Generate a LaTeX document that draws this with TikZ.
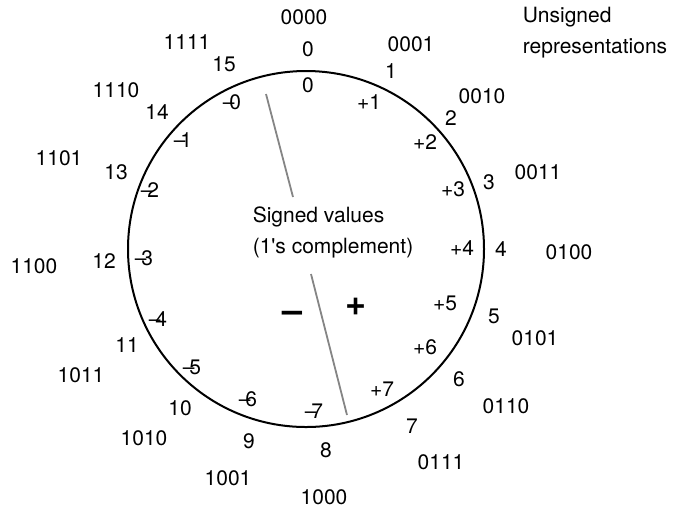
\documentclass[tikz,border=0pt]{standalone}
\usepackage{fontspec}
\setmainfont{TeX Gyre Heros}
\usepackage{tikz}
\newcommand{\mns}{\mbox{--}\kern-2.6pt}

\begin{document}
\begin{tikzpicture}[x=0.5pt, y=-0.5pt,
        lbl/.style={inner sep=0pt, font=\fontsize{10.5}{12}\selectfont},
        note/.style={inner sep=0pt, align=left, font=\fontsize{10.5}{15.5}\selectfont},
        sign/.style={inner sep=0pt, font=\fontsize{18}{20}\selectfont\bfseries},
        cut/.style={draw=black!48, line width=0.9pt}
    ]
    \useasboundingbox (0,0) rectangle (674,511);
    \node[circle, draw, line width=1pt, inner sep=0pt, minimum size=178pt] (ring) at (306,249) {};
    % binary codes
    \node[lbl] (b0000) at (304,17) {0000};
    \node[lbl] (b0001) at (411,44) {0001};
    \node[lbl] (b0010) at (482,96) {0010};
    \node[lbl] (b0011) at (538,172) {0011};
    \node[lbl] (b0100) at (569,252) {0100};
    \node[lbl] (b0101) at (535,338) {0101};
    \node[lbl] (b0110) at (506,406) {0110};
    \node[lbl] (b0111) at (441,462) {0111};
    \node[lbl] (b1000) at (324,497) {1000};
    \node[lbl] (b1001) at (228,478) {1001};
    \node[lbl] (b1010) at (144,438) {1010};
    \node[lbl] (b1011) at (81,375) {1011};
    \node[lbl] (b1100) at (34,266) {1100};
    \node[lbl] (b1101) at (59,158) {1101};
    \node[lbl] (b1110) at (116,90) {1110};
    \node[lbl] (b1111) at (187,42) {1111};
    % unsigned values
    \node[lbl] (u0) at (308,49) {0};
    \node[lbl] (u1) at (391,71) {1};
    \node[lbl] (u2) at (451,118) {2};
    \node[lbl] (u3) at (489,182) {3};
    \node[lbl] (u4) at (501,249) {4};
    \node[lbl] (u5) at (494,316) {5};
    \node[lbl] (u6) at (459,379) {6};
    \node[lbl] (u7) at (412,426) {7};
    \node[lbl] (u8) at (326,450) {8};
    \node[lbl] (u9) at (249,441) {9};
    \node[lbl] (u10) at (180,408) {10};
    \node[lbl] (u11) at (127,345) {11};
    \node[lbl] (u12) at (104,261) {12};
    \node[lbl] (u13) at (116,172) {13};
    \node[lbl] (u14) at (157,112) {14};
    \node[lbl] (u15) at (224,64) {15};
    % signed values
    \node[lbl] (sp0) at (308,85) {0};
    \node[lbl] (sp1) at (369,102) {+1};
    \node[lbl] (sp2) at (425,142) {+2};
    \node[lbl] (sp3) at (453,189) {+3};
    \node[lbl] (sp4) at (462,248) {+4};
    \node[lbl] (sp5) at (445,303) {+5};
    \node[lbl] (sp6) at (425,347) {+6};
    \node[lbl] (sp7) at (382,389) {+7};
    \node[lbl] (sm7) at (314,411) {\mns7};
    \node[lbl] (sm6) at (248,399) {\mns6};
    \node[lbl] (sm5) at (192,367) {\mns5};
    \node[lbl] (sm4) at (158,319) {\mns4};
    \node[lbl] (sm3) at (144,258) {\mns3};
    \node[lbl] (sm2) at (150,190) {\mns2};
    \node[lbl] (sm1) at (183,140) {\mns1};
    \node[lbl] (sm0) at (232,102) {\mns0};
    % captions
    \node[note] (unsig) at (595,33) {Unsigned\\representations};
    \node[note] (signed) at (333,232) {Signed values\\(1\textquotesingle s complement)};
    \node[sign] (minus) at (293,317) {--};
    \node[sign] (plus) at (356,307) {+};
    % dividing line
    \coordinate (cuttop) at (266,94);
    \coordinate (cutmid1) at (293,197);
    \coordinate (cutmid2) at (311,274);
    \coordinate (cutbot) at (347,415);
    \draw[cut] (cuttop) -- (cutmid1);
    \draw[cut] (cutmid2) -- (cutbot);
\end{tikzpicture}
\end{document}
